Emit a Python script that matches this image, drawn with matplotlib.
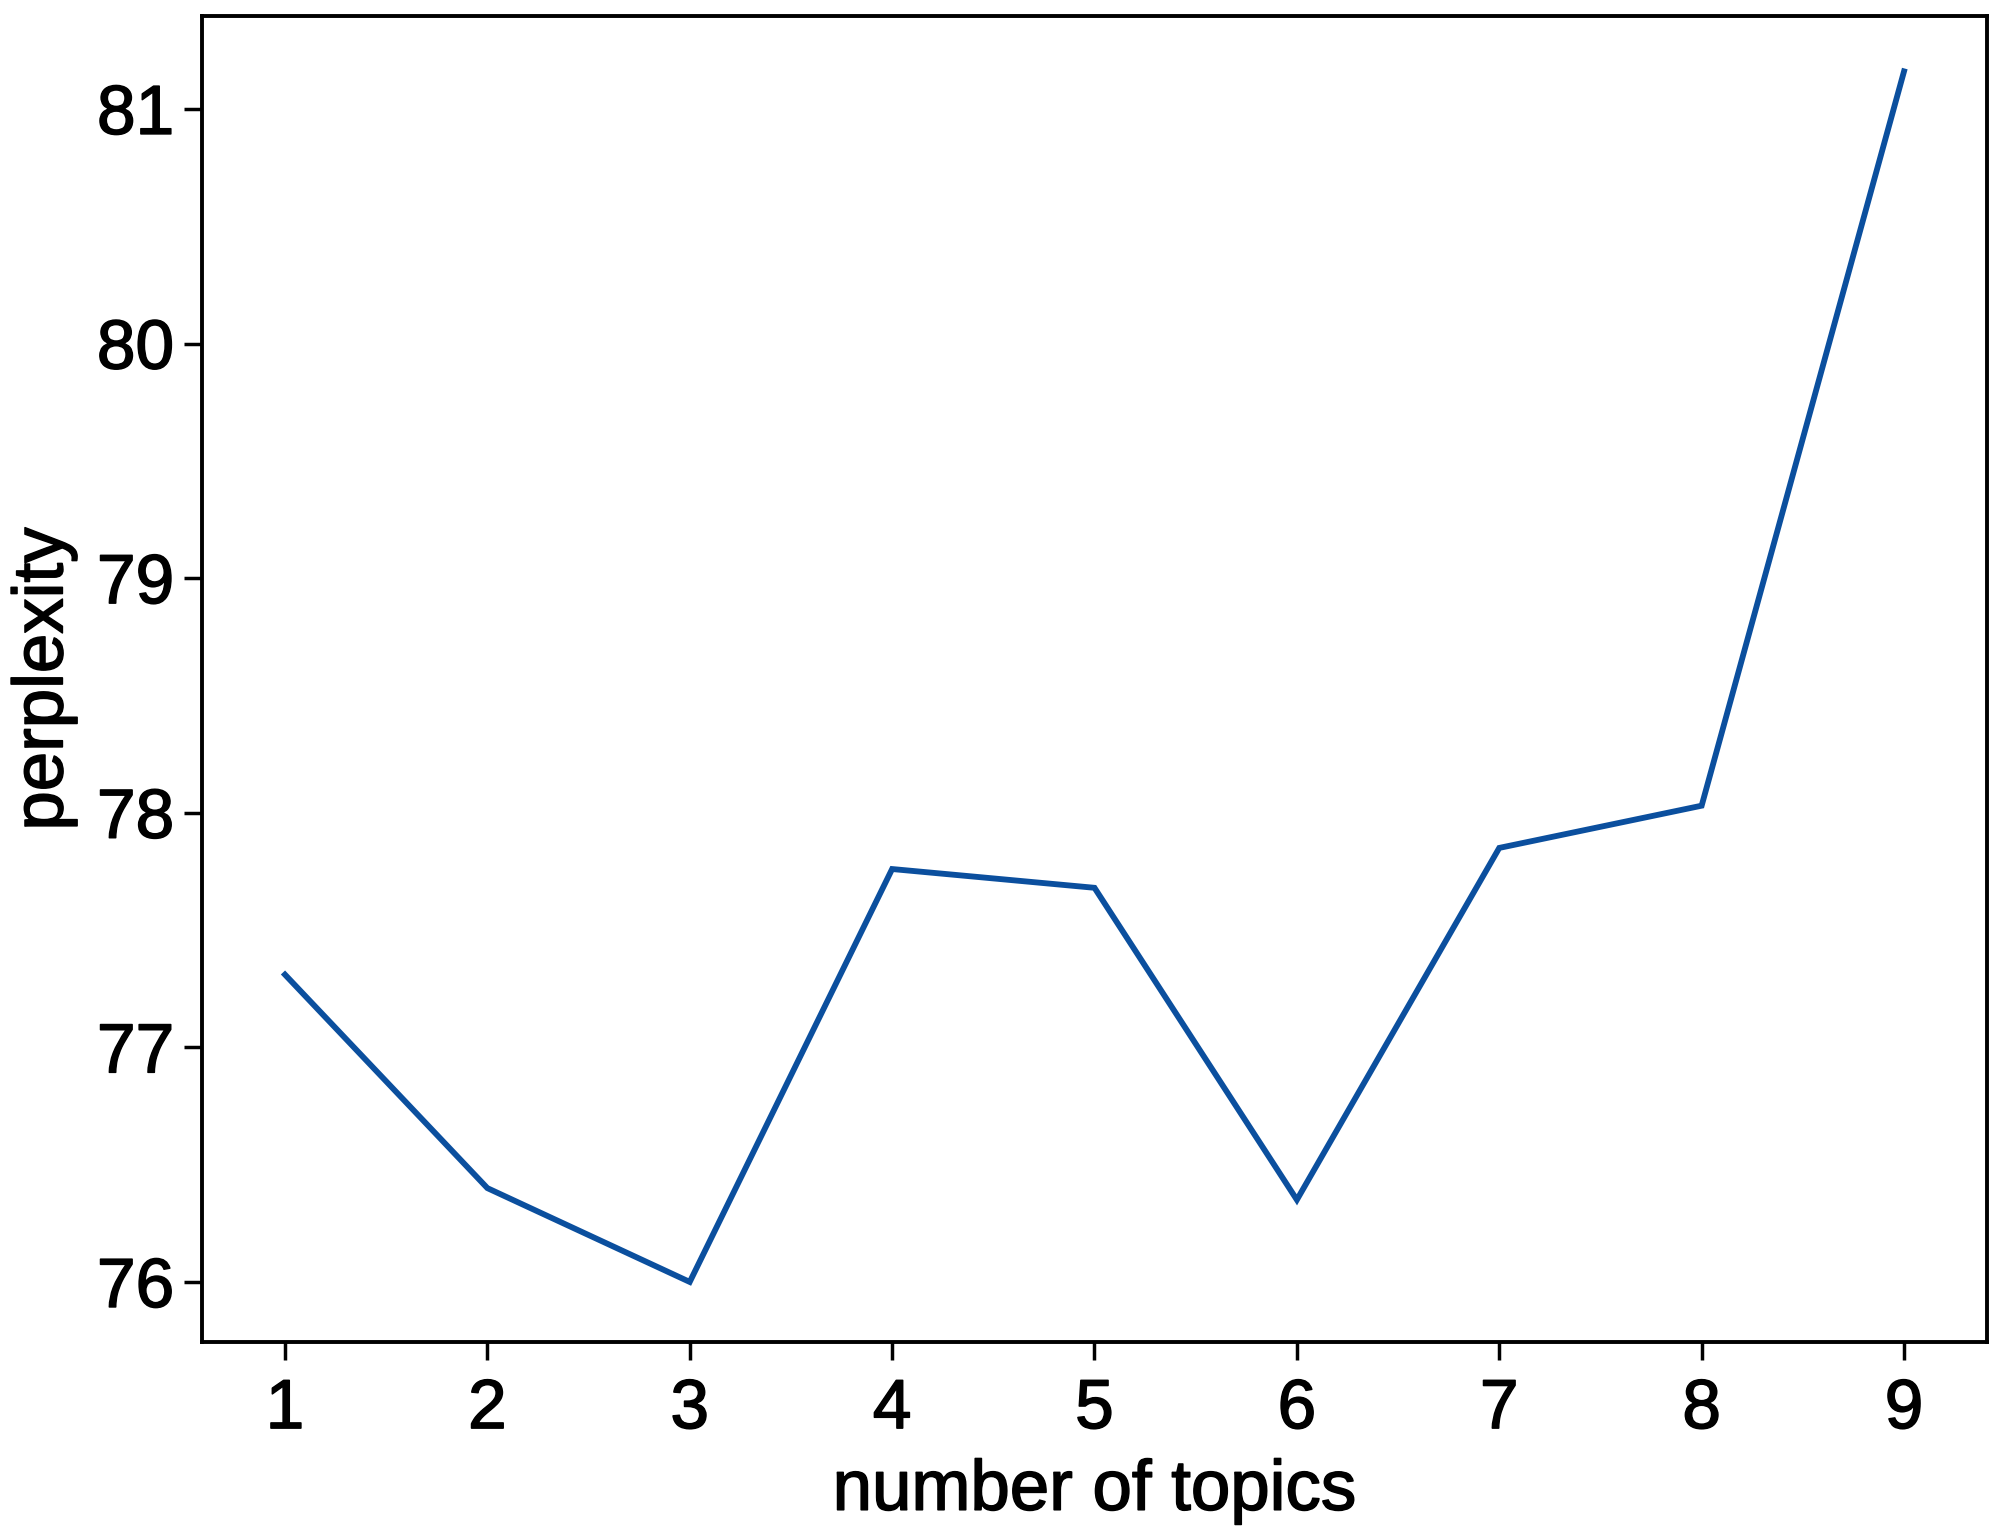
import matplotlib
matplotlib.use("Agg")
import matplotlib.pyplot as plt
import matplotlib.patheffects as pe

# perplexity per number of topics
topics = [1, 2, 3, 4, 5, 6, 7, 8, 9]
perplexity = [77.31, 76.40, 76.00, 77.76, 77.68, 76.35, 77.85, 78.03, 81.16]
yticks = [76, 77, 78, 79, 80, 81]

plt.rcParams['font.family'] = ['Liberation Sans', 'DejaVu Sans']

fig = plt.figure(figsize=(20, 15.32), dpi=100)
ax = fig.add_axes([202 / 2000, 1 - 1342 / 1532, (1987 - 202) / 2000, (1342 - 16) / 1532])

ax.plot(topics, perplexity, color='#0b4f9e', lw=4.2, solid_joinstyle='miter')

ax.set_xlim(0.59, 9.41)
ax.set_ylim(75.744, 81.396)
ax.set_xticks(topics)
ax.set_yticks(yticks)

for s in ax.spines.values():
    s.set_linewidth(2.8)
ax.tick_params(axis='both', direction='out', length=13, width=2.5, labelsize=50)
ax.tick_params(axis='x', pad=13)
ax.tick_params(axis='y', pad=7)

ax.set_xlabel('number of topics', fontsize=51, labelpad=12)
ax.set_ylabel('perplexity', fontsize=51, labelpad=14)

# text in the original is a bit heavier than regular
heavy = [pe.withStroke(linewidth=1.1, foreground='black')]
for t in ax.get_xticklabels() + ax.get_yticklabels() + [ax.xaxis.label, ax.yaxis.label]:
    t.set_path_effects(heavy)

fig.savefig('out.png', dpi=100, facecolor='white')
